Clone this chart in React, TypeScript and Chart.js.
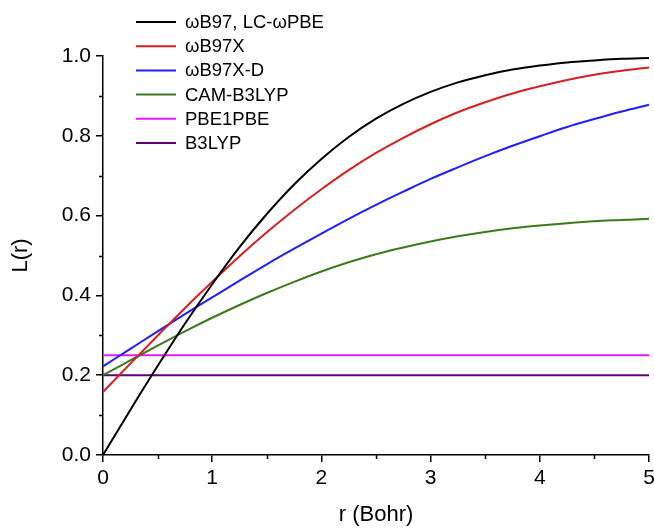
import React, { useEffect, useRef } from "react";
import { Chart, registerables } from "chart.js";

Chart.register(...registerables);

const rValues = [0, 0.25, 0.5, 0.75, 1, 1.25, 1.5, 1.75, 2, 2.25, 2.5, 2.75, 3, 3.25, 3.5, 3.75, 4, 4.25, 4.5, 4.75, 5];
const wB97 = [0, 0.113, 0.223, 0.329, 0.428, 0.521, 0.604, 0.678, 0.742, 0.797, 0.843, 0.880, 0.910, 0.934, 0.952, 0.966, 0.976, 0.984, 0.989, 0.993, 0.995];
const wB97X = [0.158, 0.229, 0.299, 0.368, 0.434, 0.498, 0.558, 0.614, 0.666, 0.714, 0.757, 0.795, 0.829, 0.859, 0.884, 0.906, 0.924, 0.940, 0.953, 0.963, 0.971];
const wB97XD = [0.222, 0.266, 0.310, 0.353, 0.395, 0.437, 0.478, 0.517, 0.555, 0.592, 0.627, 0.660, 0.692, 0.721, 0.749, 0.775, 0.799, 0.822, 0.842, 0.861, 0.878];
const camB3LYP = [0.2, 0.237, 0.274, 0.310, 0.344, 0.376, 0.406, 0.434, 0.460, 0.483, 0.503, 0.520, 0.535, 0.548, 0.559, 0.568, 0.575, 0.581, 0.586, 0.589, 0.592];
const pbe1pbe = [0.25, 0.25, 0.25, 0.25, 0.25, 0.25, 0.25, 0.25, 0.25, 0.25, 0.25, 0.25, 0.25, 0.25, 0.25, 0.25, 0.25, 0.25, 0.25, 0.25, 0.25];
const b3lyp = [0.2, 0.2, 0.2, 0.2, 0.2, 0.2, 0.2, 0.2, 0.2, 0.2, 0.2, 0.2, 0.2, 0.2, 0.2, 0.2, 0.2, 0.2, 0.2, 0.2, 0.2];

const seriesLabels = ["\u03c9B97, LC-\u03c9PBE", "\u03c9B97X", "\u03c9B97X-D", "CAM-B3LYP", "PBE1PBE", "B3LYP"];
const seriesColors = ["#000000", "#d81e1e", "#1e1eff", "#3c7a1c", "#e01cf8", "#620070"];
const seriesData = [wB97, wB97X, wB97XD, camB3LYP, pbe1pbe, b3lyp];

const xMinorTicks = [0.5, 1.5, 2.5, 3.5, 4.5];
const yMinorTicks = [0.1, 0.3, 0.5, 0.7, 0.9];

const FONT = "'Liberation Sans', Arial, sans-serif";

const extrasPlugin = {
  id: "extras",
  afterDraw(chart: any) {
    const ctx = chart.ctx;
    const xs = chart.scales.x;
    const ys = chart.scales.y;
    const ca = chart.chartArea;
    ctx.save();
    ctx.strokeStyle = "#000";
    ctx.lineWidth = 1.5;
    ctx.beginPath();
    xMinorTicks.forEach((v) => {
      const px = Math.round(xs.getPixelForValue(v)) + 0.5;
      ctx.moveTo(px, ca.bottom);
      ctx.lineTo(px, ca.bottom + 4);
    });
    yMinorTicks.forEach((v) => {
      const py = Math.round(ys.getPixelForValue(v)) + 0.5;
      ctx.moveTo(ca.left, py);
      ctx.lineTo(ca.left - 4, py);
    });
    ctx.stroke();

    // legend
    ctx.font = "18.5px " + FONT;
    ctx.textBaseline = "middle";
    ctx.textAlign = "left";
    seriesLabels.forEach((lab, i) => {
      const y = 22 + i * 24.2;
      ctx.strokeStyle = seriesColors[i];
      ctx.lineWidth = 2;
      ctx.beginPath();
      ctx.moveTo(136, y);
      ctx.lineTo(176, y);
      ctx.stroke();
      ctx.fillStyle = "#000";
      ctx.fillText(lab, 185, y + 1);
    });
    ctx.restore();
  },
};

export default function App() {
  const ref = useRef<HTMLCanvasElement | null>(null);
  useEffect(() => {
    if (!ref.current) return;
    const chart = new Chart(ref.current, {
      type: "line",
      data: {
        datasets: seriesData.map((d, i) => ({
          label: seriesLabels[i],
          data: d.map((y, j) => ({ x: rValues[j], y })),
          borderColor: seriesColors[i],
          backgroundColor: seriesColors[i],
          borderWidth: 2,
          pointRadius: 0,
          tension: 0.4,
          cubicInterpolationMode: "monotone",
          clip: false as any,
        })),
      },
      options: {
        animation: false,
        responsive: false,
        layout: { padding: { left: 0, right: 5, top: 56, bottom: 0 } },
        plugins: { legend: { display: false }, tooltip: { enabled: false } },
        scales: {
          x: {
            type: "linear",
            min: 0,
            max: 5,
            border: { display: true, color: "#000", width: 1.5 },
            grid: { display: true, drawOnChartArea: false, drawTicks: true, tickLength: 7, color: "#000", lineWidth: 1.5 },
            ticks: { stepSize: 1, color: "#000", font: { family: FONT, size: 21 }, padding: 4 },
            title: { display: true, text: "r (Bohr)", color: "#000", font: { family: FONT, size: 22 }, padding: { top: 0, bottom: 0 } },
            afterFit: (s: any) => { s.height = 73; s.paddingLeft = 0; s.paddingRight = 0; },
          },
          y: {
            type: "linear",
            min: 0,
            max: 1,
            border: { display: true, color: "#000", width: 1.5 },
            grid: { display: true, drawOnChartArea: false, drawTicks: true, tickLength: 7, color: "#000", lineWidth: 1.5 },
            ticks: { stepSize: 0.2, color: "#000", font: { family: FONT, size: 21 }, padding: 5, callback: (v: any) => Number(v).toFixed(1) },
            title: { display: true, text: "L(r)", color: "#000", font: { family: FONT, size: 22 }, padding: { top: 8, bottom: 0 } },
            afterFit: (s: any) => { s.width = 103; s.paddingTop = 0; s.paddingBottom = 0; },
          },
        },
      },
      plugins: [extrasPlugin],
    } as any);
    return () => chart.destroy();
  }, []);
  return (
    <div style={{ position: "fixed", left: 0, top: 0, width: 654, height: 528, background: "#fff" }}>
      <canvas ref={ref} width={654} height={528} style={{ width: 654, height: 528 }} />
    </div>
  );
}
